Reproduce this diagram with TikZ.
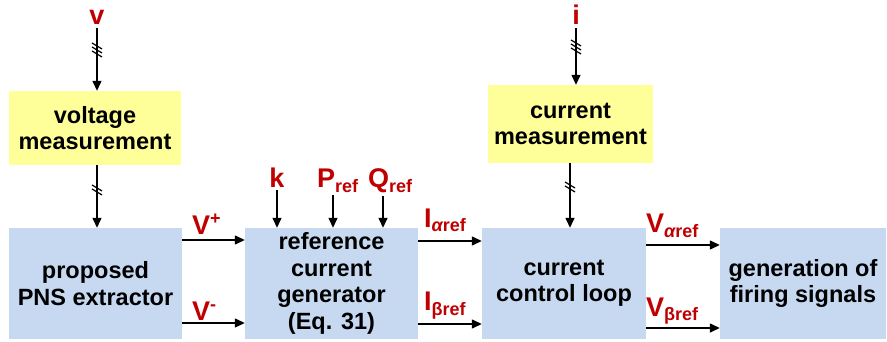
\documentclass[tikz,border=0pt]{standalone}
\usepackage{fontspec}
\setmainfont{Liberation Sans}
\usetikzlibrary{arrows.meta}
\definecolor{boxblue}{HTML}{C6D9F1}
\definecolor{boxyellow}{HTML}{FFFF99}
\definecolor{lblred}{HTML}{C00000}
\newcommand\lsub[1]{\raisebox{-5pt}{\fontsize{18}{20}\selectfont #1}}
\newcommand\lsup[1]{\raisebox{10pt}{\fontsize{18}{20}\selectfont #1}}
\begin{document}
\begin{tikzpicture}[x=1pt,y=-1pt,
  box/.style={draw=none, align=center, inner sep=0pt, font=\fontsize{23.5}{26.5}\selectfont\bfseries},
  bluebox/.style={box, fill=boxblue, minimum height=111pt},
  yelbox/.style={box, fill=boxyellow},
  lbl/.style={text=lblred, font=\fontsize{27}{30}\selectfont\bfseries, inner sep=0pt},
  conn/.style={line width=1.4pt, -{Triangle[length=10pt,width=9pt]}},
  slashmark/.style={line width=1.2pt}]
\useasboundingbox (0,0) rectangle (887,342);

% blocks
\node[bluebox, minimum width=173pt] (b1) at (95.5,283.5) {proposed\\PNS extractor};
\node[bluebox, minimum width=173pt] (b2) at (331.5,283.5) {reference\\current\\generator\\(Eq. 31)};
\node[bluebox, minimum width=164pt] (b3) at (564,283.5) {current\\control loop};
\node[bluebox, minimum width=166pt] (b4) at (803,283.5) {generation of\\firing signals};
\node[yelbox, minimum width=172pt, minimum height=74pt] (vm) at (95,128) {voltage\\measurement};
\node[yelbox, minimum width=165pt, minimum height=78pt] (cm) at (570.5,124) {current\\measurement};

% labels
\node[lbl, anchor=base] (v) at (97,25) {v};
\node[lbl, anchor=base] (i) at (576,25) {i};
\node[lbl, anchor=base] (k) at (277,188) {k};
\node[lbl, anchor=base west] (pref) at (317,188) {P\lsub{ref}};
\node[lbl, anchor=base west] (qref) at (368,188) {Q\lsub{ref}};
\node[lbl, anchor=base west] (vp) at (192,235) {V\lsup{+}};
\node[lbl, anchor=base west] (vn) at (192,320) {V\lsup{-}};
\node[lbl, anchor=base west] (ia) at (424,227) {I\lsub{{\itshape α}ref}};
\node[lbl, anchor=base west] (ib) at (424,310) {I\lsub{βref}};
\node[lbl, anchor=base west] (va) at (646,233) {V\lsub{{\itshape α}ref}};
\node[lbl, anchor=base west] (vb) at (646,316) {V\lsub{βref}};

% row coordinates
\coordinate (r1) at (0,240);
\coordinate (r2) at (0,323);
\coordinate (r3) at (0,241);
\coordinate (r4) at (0,324);
\coordinate (r5) at (0,245);
\coordinate (r6) at (0,328);
\coordinate (cx) at (570,0);
\coordinate (px) at (333,0);
\coordinate (qx) at (383,0);

% vertical connectors
\draw[conn, shorten <=3pt] (v.south) -- (v.south |- vm.north);
\draw[conn, shorten <=3pt] (i.south) -- (i.south |- cm.north);
\draw[conn] (v.south |- vm.south) -- (v.south |- b1.north);
\draw[conn] (cx |- cm.south) -- (cx |- b3.north);
\draw[conn, shorten <=2pt] (k.south) -- (k.south |- b2.north);
\draw[conn, shorten <=2pt] (px |- pref.south) -- (px |- b2.north);
\draw[conn, shorten <=2pt] (qx |- qref.south) -- (qx |- b2.north);

% horizontal connectors
\draw[conn] (b1.east |- r1) -- (b2.west |- r1);
\draw[conn] (b1.east |- r2) -- (b2.west |- r2);
\draw[conn] (b2.east |- r3) -- (b3.west |- r3);
\draw[conn] (b2.east |- r4) -- (b3.west |- r4);
\draw[conn] (b3.east |- r5) -- (b4.west |- r5);
\draw[conn] (b3.east |- r6) -- (b4.west |- r6);

% slash marks
\coordinate (s1) at (97,50);
\coordinate (s2) at (576,47);
\coordinate (s3) at (97,190);
\coordinate (s4) at (570,187);
\foreach \s in {s1,s2}{
  \foreach \d in {-4,0,4}{
    \draw[slashmark] ([shift={(-5,\d-3)}]\s) -- ([shift={(5,\d+3)}]\s);
  }
}
\foreach \s in {s3,s4}{
  \foreach \d in {-2,2}{
    \draw[slashmark] ([shift={(-5,\d-3)}]\s) -- ([shift={(5,\d+3)}]\s);
  }
}
\end{tikzpicture}
\end{document}
